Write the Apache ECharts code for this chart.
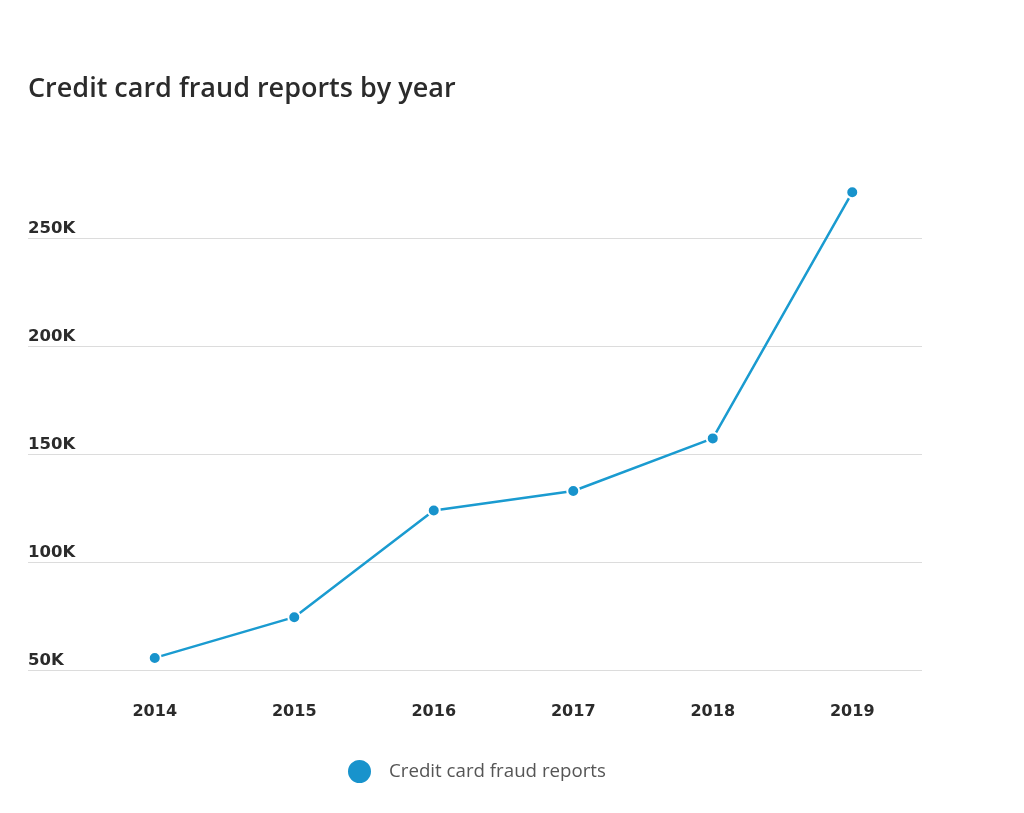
<!DOCTYPE html>
<html>
<head>
<meta charset="utf-8">
<title>Credit card fraud reports by year</title>
<script src="https://cdn.jsdelivr.net/npm/echarts@6/dist/echarts.min.js"></script>
<style>
  html, body { margin: 0; padding: 0; background: #fff; }
  #chart { width: 1024px; height: 813px; }
</style>
</head>
<body>
<div id="chart"></div>
<script>
// data
var years = ['2014', '2015', '2016', '2017', '2018', '2019'];
var reports = [55600, 74500, 124000, 133000, 157400, 271500];
var seriesName = 'Credit card fraud reports';

var yMin = 50000, yMax = 280000, yStep = 50000;

var chart = echarts.init(document.getElementById('chart'));
var option = {
  backgroundColor: '#fff',
  title: {
    text: 'Credit card fraud reports by year',
    left: 28,
    top: 76,
    padding: 0,
    textStyle: { fontFamily: 'Open Sans', fontWeight: 600, fontSize: 27, color: '#2b2b2b' }
  },
  legend: {
    left: 346,
    top: 758,
    padding: 0,
    icon: 'circle',
    itemWidth: 25,
    itemHeight: 25,
    textStyle: { fontFamily: 'Open Sans', fontSize: 18.7, color: '#555', padding: [0, 0, 0, 12] },
    data: [seriesName]
  },
  grid: [
    // full width grid: gridlines + y labels
    { left: 28, right: 102, top: 174, bottom: 143 },
    // plot grid for the line
    { left: 85, right: 102, top: 174, bottom: 143 }
  ],
  xAxis: [
    { gridIndex: 0, type: 'category', data: years, show: false },
    {
      gridIndex: 1,
      type: 'category',
      data: years,
      boundaryGap: true,
      axisLine: { show: false },
      axisTick: { show: false },
      axisLabel: { margin: 34, fontFamily: 'DejaVu Sans', fontWeight: 'bold', fontSize: 16, color: '#2b2b2b' }
    }
  ],
  yAxis: [
    {
      gridIndex: 0,
      type: 'value',
      min: yMin, max: yMax, interval: yStep,
      axisLine: { show: false },
      axisTick: { show: false },
      splitLine: { show: true, showMaxLine: false, lineStyle: { color: '#dcdcdc', width: 1 } },
      axisLabel: {
        inside: true,
        showMaxLabel: false,
        margin: 0,
        verticalAlign: 'bottom',
        padding: [0, 0, 1, 0],
        fontFamily: 'DejaVu Sans', fontWeight: 'bold', fontSize: 16.5, color: '#2b2b2b',
        formatter: function (v) { return (v / 1000) + 'K'; }
      }
    },
    {
      gridIndex: 1,
      type: 'value',
      min: yMin, max: yMax, interval: yStep,
      show: false
    }
  ],
  series: [{
    name: seriesName,
    type: 'line',
    xAxisIndex: 1,
    yAxisIndex: 1,
    data: reports,
    symbol: 'circle',
    symbolSize: 12,
    color: '#1893cc',
    lineStyle: { color: '#1a9bd0', width: 2.5 },
    itemStyle: { color: '#1893cc', borderColor: '#fff', borderWidth: 2 },
    emphasis: { disabled: true },
    animation: false
  }]
};
chart.setOption(option);
</script>
</body>
</html>
